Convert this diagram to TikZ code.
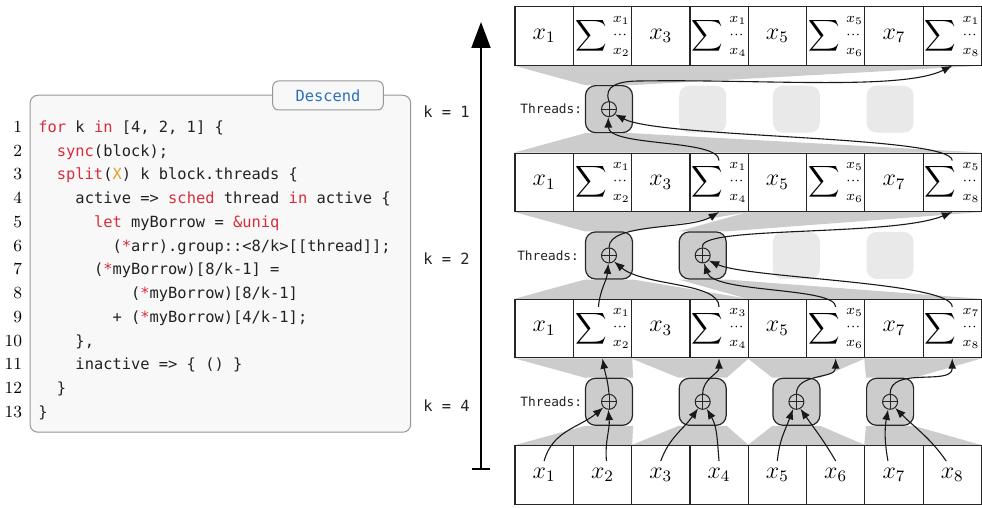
\documentclass[tikz,border=0pt]{standalone}
\usepackage{amsmath}
\usepackage{fontspec}
\setmonofont{DejaVu Sans Mono}
\usetikzlibrary{arrows.meta,backgrounds}

\definecolor{trapgray}{RGB}{204,204,204}
\definecolor{idlegray}{RGB}{233,233,233}
\definecolor{codebg}{RGB}{248,248,248}
\definecolor{codeframe}{RGB}{150,150,150}
\definecolor{kwred}{RGB}{214,46,60}
\definecolor{xorange}{RGB}{226,160,40}
\definecolor{tabblue}{RGB}{42,110,190}
\definecolor{codetext}{RGB}{34,34,34}

\newcommand{\kw}[1]{\textcolor{kwred}{#1}}
\newcommand{\sumcell}[2]{\fontsize{10.5}{12}\selectfont$\displaystyle\sum\nolimits\mkern2mu\vcenter{\baselineskip=8pt\lineskiplimit=-20pt\lineskip=0pt\halign{\hfil$\scriptstyle##$\hfil\cr#1\cr\cdots\cr#2\cr}}$}

\begin{document}
\begin{tikzpicture}[x=0.5pt,y=0.5pt,
  cell/.style={draw=black!85, line width=0.6pt, minimum width=29.15pt, minimum height=29.15pt, inner sep=0pt, font=\fontsize{12}{14}\selectfont},
  tbox/.style={draw=black!85, fill=trapgray, line width=0.6pt, rounded corners=5pt, minimum size=23.5pt, inner sep=0pt},
  idlebox/.style={fill=idlegray, rounded corners=5pt, minimum size=23.5pt, inner sep=0pt},
  plus/.style={circle, draw=black!85, line width=0.5pt, minimum size=7.5pt, inner sep=0pt,
    path picture={\draw[line width=0.5pt] (path picture bounding box.north) -- (path picture bounding box.south)
      (path picture bounding box.west) -- (path picture bounding box.east);}},
  arr/.style={-{Latex[length=5.2pt,width=4pt]}, line width=0.55pt, black!90},
  kaxis/.style={{Bar[width=9pt]}-{Triangle[length=13pt,width=9.5pt]}, line width=1pt},
  thr/.style={anchor=east, inner sep=0pt, text=codetext, font=\ttfamily\fontsize{6.4}{8}\selectfont},
  klab/.style={anchor=west, inner sep=0pt, text=codetext, font=\ttfamily\fontsize{7.7}{9}\selectfont},
  code/.style={anchor=base west, inner sep=0pt, text=codetext, font=\ttfamily\fontsize{7.7}{9}\selectfont},
  lnum/.style={anchor=base east, inner sep=0pt, font=\fontsize{8.5}{10}\selectfont},
  codebox/.style={draw=codeframe, fill=codebg, line width=0.5pt, rounded corners=4pt, inner sep=0pt,
    minimum width=190.35pt, minimum height=168.5pt},
  tabbox/.style={draw=codeframe, fill=codebg, line width=0.5pt, rounded corners=3pt, inner sep=0pt,
    minimum width=55.3pt, minimum height=14.5pt, text=tabblue, font=\ttfamily\fontsize{7.7}{9}\selectfont}]
\useasboundingbox (0,0) rectangle (982,-508);

% code listing
\node[codebox] (code) at (220.35,-263.75) {};
\node[tabbox] (tab) at (328,-95.5) {Descend};
\foreach \n in {1,...,13}
  \node[lnum] (n\n) at (22.5,{-132.5-23.75*(\n-1)}) {\n};
\node[code] (l1) at (38,-132.5) {\kw{for} k \kw{in} [4, 2, 1] \{};
\node[code] (l2) at (56.5,-156.25) {\kw{sync}(block);};
\node[code] (l3) at (56.5,-180) {\kw{split}(\textcolor{xorange}{X}) k block.threads \{};
\node[code] (l4) at (75.1,-203.75) {active => \kw{sched} thread \kw{in} active \{};
\node[code] (l5) at (93.6,-227.5) {\kw{let} myBorrow = \kw{\&uniq}};
\node[code] (l6) at (112.2,-251.25) {(\kw{*}arr).group::<8/k>[[thread]];};
\node[code] (l7) at (93.6,-275) {(\kw{*}myBorrow)[8/k-1] =};
\node[code] (l8) at (130.7,-298.75) {(\kw{*}myBorrow)[8/k-1]};
\node[code] (l9) at (112.2,-322.5) {+ (\kw{*}myBorrow)[4/k-1];};
\node[code] (l10) at (75.1,-346.25) {\},};
\node[code] (l11) at (75.1,-370) {inactive => \{ () \}};
\node[code] (l12) at (56.5,-393.75) {\}};
\node[code] (l13) at (38,-417.5) {\}};

% k axis
\coordinate (axbot) at (481,-470);
\coordinate (axtop) at (481,-22);
\draw[kaxis] (axbot) -- (axtop);
\node[klab] (k1) at (423,-112) {k = 1};
\node[klab] (k2) at (423,-259) {k = 2};
\node[klab] (k4) at (423,-406) {k = 4};

% arrays
\foreach \txt [count=\i from 0] in {{$x_1$},{\sumcell{x_1}{x_2}},{$x_3$},{\sumcell{x_1}{x_4}},{$x_5$},{\sumcell{x_5}{x_6}},{$x_7$},{\sumcell{x_1}{x_8}}}
  \node[cell] (r0c\i) at ({544.15+58.3*\i},-36) {\txt};
\foreach \txt [count=\i from 0] in {{$x_1$},{\sumcell{x_1}{x_2}},{$x_3$},{\sumcell{x_1}{x_4}},{$x_5$},{\sumcell{x_5}{x_6}},{$x_7$},{\sumcell{x_5}{x_8}}}
  \node[cell] (r1c\i) at ({544.15+58.3*\i},-182.3) {\txt};
\foreach \txt [count=\i from 0] in {{$x_1$},{\sumcell{x_1}{x_2}},{$x_3$},{\sumcell{x_3}{x_4}},{$x_5$},{\sumcell{x_5}{x_6}},{$x_7$},{\sumcell{x_7}{x_8}}}
  \node[cell] (r2c\i) at ({544.15+58.3*\i},-328.6) {\txt};
\foreach \i in {0,...,7}
  \node[cell] (r3c\i) at ({544.15+58.3*\i},-475) {$x_{\the\numexpr\i+1\relax}$};

% thread boxes
\foreach \j in {0,...,3}
  \node[tbox] (b4\j) at ({609+93.7*\j},-401.8) {};
\node[tbox] (b20) at (609,-255.45) {};
\node[tbox] (b21) at (702.7,-255.45) {};
\foreach \j in {2,3}
  \node[idlebox] (b2\j) at ({609+93.7*\j},-255.45) {};
\node[tbox] (b10) at (609,-109.15) {};
\foreach \j in {1,2,3}
  \node[idlebox] (b1\j) at ({609+93.7*\j},-109.15) {};
\foreach \b in {40,41,42,43,20,21,10}
  \node[plus] (t\b) at (b\b) {};
\node[thr] (th1) at ([xshift=-1.2pt]b10.west) {Threads:};
\node[thr] (th2) at ([xshift=-2.8pt]b20.west) {Threads:};
\node[thr] (th4) at ([xshift=-1.2pt]b40.west) {Threads:};

% gray fans
\begin{scope}[on background layer]
  \foreach \j [evaluate=\j as \a using int(2*\j), evaluate=\j as \z using int(2*\j+1)] in {0,...,3} {
    \fill[trapgray] (r2c\a.south west) -- (r2c\z.south east) -- (b4\j.north east) -- (b4\j.north west) -- cycle;
    \fill[trapgray] (r3c\a.north west) -- (r3c\z.north east) -- (b4\j.south east) -- (b4\j.south west) -- cycle;
  }
  \foreach \j [evaluate=\j as \a using int(4*\j), evaluate=\j as \z using int(4*\j+3)] in {0,1} {
    \fill[trapgray] (r1c\a.south west) -- (r1c\z.south east) -- (b2\j.north east) -- (b2\j.north west) -- cycle;
    \fill[trapgray] (r2c\a.north west) -- (r2c\z.north east) -- (b2\j.south east) -- (b2\j.south west) -- cycle;
  }
  \fill[trapgray] (r0c0.south west) -- (r0c7.south east) -- (b10.north east) -- (b10.north west) -- cycle;
  \fill[trapgray] (r1c0.north west) -- (r1c7.north east) -- (b10.south east) -- (b10.south west) -- cycle;
\end{scope}

% k = 4
\draw[arr] ([yshift=7pt]r3c0.center) to[out=75,in=-140] (t40.-135);
\draw[arr] ([xshift=2pt,yshift=7pt]r3c1.center) to[out=95,in=-85] (t40.-95);
\draw[arr] (t40.north) to[out=95,in=-80] (r2c1.south);
\draw[arr] ([yshift=7pt]r3c2.center) to[out=70,in=-125] (t41.-125);
\draw[arr] ([yshift=7pt]r3c3.center) to[out=95,in=-60] (t41.-60);
\draw[arr] (t41.north) to[out=90,in=-90] (r2c3.south);
\draw[arr] ([yshift=7pt]r3c4.center) to[out=85,in=-110] (t42.-115);
\draw[arr] ([yshift=7pt]r3c5.center) to[out=120,in=-55] (t42.-60);
\draw[arr] (t42.north) to[out=90,in=-90] (r2c5.south);
\draw[arr] ([xshift=-3pt,yshift=7pt]r3c6.center) to[out=100,in=-100] (t43.-105);
\draw[arr] ([xshift=-3pt,yshift=7pt]r3c7.center) to[out=125,in=-45] (t43.-50);
\draw[arr] (t43.north) to[out=90,in=-90] (r2c7.south);

% k = 2
\draw[arr] ([xshift=-2pt,yshift=-4pt]r2c1.north) to[out=85,in=-95] (t20.-95);
\draw[arr] ([yshift=-4pt]r2c3.north) .. controls +(0,25) and +(30,-25) .. (t20.-50);
\draw[arr] ([yshift=-4pt]r2c5.north) .. controls +(0,20) and +(10,-30) .. (t21.-80);
\draw[arr] ([yshift=-4pt]r2c7.north) .. controls +(0,25) and +(40,-18) .. (t21.-40);
\draw[arr] (t20.north) .. controls +(0,25) and +(-30,-18) .. (r1c3.south);
\draw[arr] (t21.north) .. controls +(-8,22) and +(-60,-25) .. (r1c7.south);

% k = 1
\draw[arr] ([yshift=-4pt]r1c3.north) .. controls +(0,22) and +(0,-30) .. (t10.-95);
\draw[arr] ([yshift=-4pt]r1c7.north) .. controls +(0,25) and +(45,-24) .. (t10.-40);
\draw[arr] (t10.north) .. controls +(-6,16) and +(-20,0) .. (640,-81) .. controls +(120,2) and +(-50,-25) .. (r0c7.south);
\end{tikzpicture}
\end{document}
